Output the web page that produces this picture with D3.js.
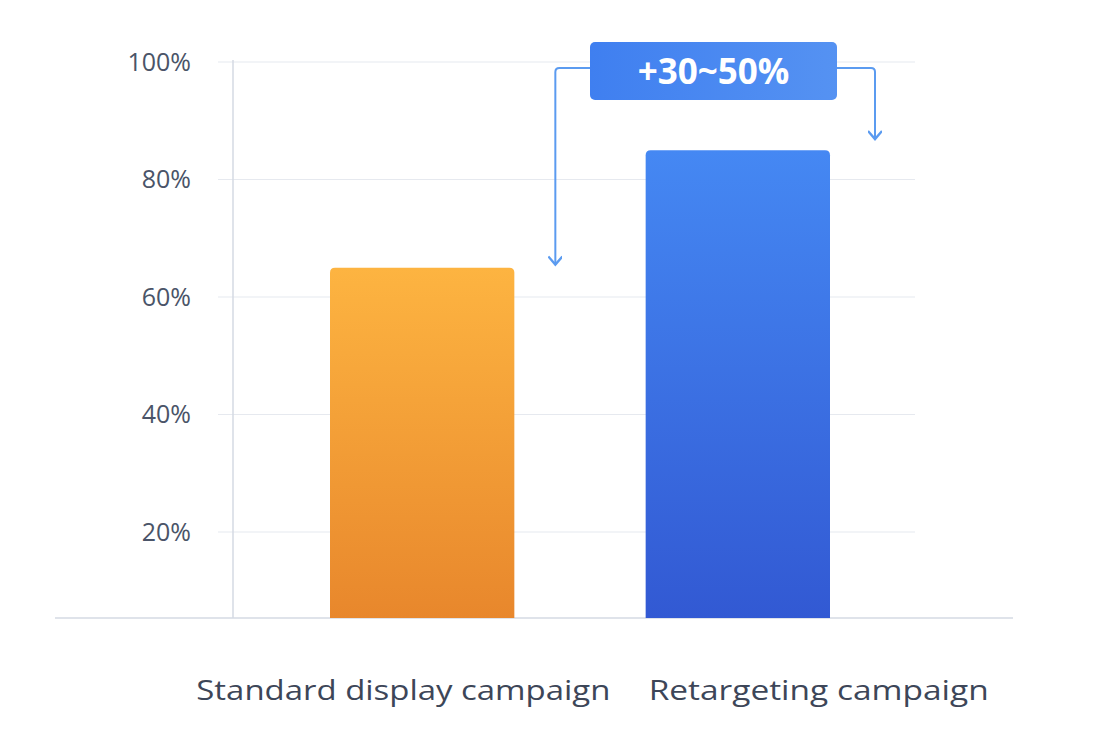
<!DOCTYPE html>
<html><head><meta charset="utf-8">
<script src="https://cdn.jsdelivr.net/npm/d3@7"></script>
<style>body{margin:0;background:#fff}svg{display:block}</style>
</head><body>
<script>
const categories = ["Standard display campaign", "Retargeting campaign"];
const values = [65, 85];
const tickValues = [20, 40, 60, 80, 100];
const tickLabels = ["20%", "40%", "60%", "80%", "100%"];
const annotation = "+30~50%";

const W = 1099, H = 738;
const FONT = "'Open Sans', 'Noto Sans', sans-serif";
const svg = d3.select("body").append("svg").attr("width", W).attr("height", H);
const y = d3.scaleLinear().domain([0, 100]).range([649.5, 62]);
const x = d3.scaleBand().domain(categories).range([330, 830]).paddingInner(0.416).paddingOuter(0);
const baseY = 618;

const defs = svg.append("defs");
const grads = [["#fdb441", "#e8872c"], ["#4588f3", "#3259d3"]];
grads.forEach((g, i) => {
  const lg = defs.append("linearGradient").attr("id", "g" + i).attr("x1", 0).attr("y1", 0).attr("x2", 0).attr("y2", 1);
  lg.append("stop").attr("offset", 0).attr("stop-color", g[0]);
  lg.append("stop").attr("offset", 1).attr("stop-color", g[1]);
});
defs.append("marker").attr("id", "arr").attr("viewBox", "0 0 12 12").attr("refX", 10).attr("refY", 6)
  .attr("markerWidth", 14).attr("markerHeight", 14).attr("markerUnits", "userSpaceOnUse").attr("orient", "auto")
  .append("path").attr("d", "M3,0 L10,6 L3,12").attr("fill", "none").attr("stroke", "#5b9bf0").attr("stroke-width", 2);

svg.selectAll(".grid").data(tickValues).join("line")
  .attr("x1", 218).attr("x2", 915).attr("y1", d => y(d)).attr("y2", d => y(d))
  .attr("stroke", "#e6e9ef").attr("stroke-width", 1.2);
svg.append("line").attr("x1", 233).attr("x2", 233).attr("y1", 60).attr("y2", baseY).attr("stroke", "#d5dae3").attr("stroke-width", 1.5);
svg.append("line").attr("x1", 55).attr("x2", 1013).attr("y1", baseY).attr("y2", baseY).attr("stroke", "#d5dae3").attr("stroke-width", 1.5);

svg.selectAll(".tl").data(tickValues).join("text")
  .attr("x", 191).attr("y", d => y(d)).attr("dy", "0.35em").attr("text-anchor", "end")
  .attr("font-family", FONT).attr("font-size", 25).attr("fill", "#4a5468")
  .text((d, i) => tickLabels[i]);

svg.selectAll(".bar").data(values).join("path")
  .attr("fill", (d, i) => `url(#g${i})`)
  .attr("d", (d, i) => {
    const x0 = x(categories[i]), w = x.bandwidth(), t = y(d), r = 5;
    return `M${x0},${baseY} V${t + r} Q${x0},${t} ${x0 + r},${t} H${x0 + w - r} Q${x0 + w},${t} ${x0 + w},${t + r} V${baseY} Z`;
  });

svg.selectAll(".cl").data(categories).join("text")
  .attr("x", (d, i) => i === 0 ? x(d) + x.bandwidth() + 96 : x(d) + 3).attr("y", 700)
  .attr("text-anchor", (d, i) => i === 0 ? "end" : "start")
  .attr("font-family", FONT).attr("font-size", 28).attr("fill", "#3d4658")
  .attr("textLength", (d, i) => i === 0 ? 414 : 340).attr("lengthAdjust", "spacingAndGlyphs")
  .text(d => d);

const bx0 = 590, bx1 = 837, by0 = 42, by1 = 100, my = 68;
const lx = x(categories[0]) + x.bandwidth() + 41, rx = x(categories[1]) + x.bandwidth() + 45;
svg.append("path").attr("d", `M${bx0},${my} H${lx + 4} Q${lx},${my} ${lx},${my + 4} V${y(values[0]) - 3}`)
  .attr("fill", "none").attr("stroke", "#5b9bf0").attr("stroke-width", 2).attr("marker-end", "url(#arr)");
svg.append("path").attr("d", `M${bx1},${my} H${rx - 4} Q${rx},${my} ${rx},${my + 4} V${y(values[1]) - 11}`)
  .attr("fill", "none").attr("stroke", "#5b9bf0").attr("stroke-width", 2).attr("marker-end", "url(#arr)");
const bg = defs.append("linearGradient").attr("id", "bg").attr("x1", 0).attr("x2", 1);
bg.append("stop").attr("offset", 0).attr("stop-color", "#3f7ff0");
bg.append("stop").attr("offset", 1).attr("stop-color", "#5592f2");
svg.append("rect").attr("x", bx0).attr("y", by0).attr("width", bx1 - bx0).attr("height", by1 - by0).attr("rx", 5).attr("fill", "url(#bg)");
svg.append("text").attr("x", (bx0 + bx1) / 2).attr("y", (by0 + by1) / 2).attr("dy", "0.36em").attr("text-anchor", "middle")
  .attr("font-family", FONT).attr("font-weight", 700).attr("font-size", 35).attr("fill", "#fff")
  .text(annotation);
</script>
</body></html>
